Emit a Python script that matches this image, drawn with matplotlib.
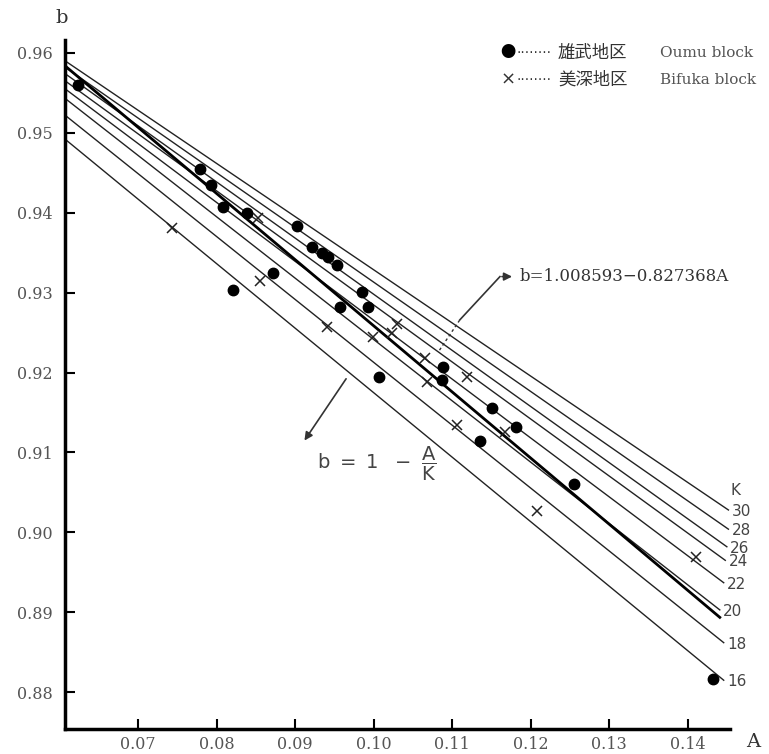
import numpy as np
import matplotlib
matplotlib.use("Agg")
import matplotlib.pyplot as plt

# K lines (b = 1 - A/K family), end points
k_values = [30, 28, 26, 24, 22, 20, 18, 16]
k_a_left = 0.0607
k_b_left = [0.9590, 0.9582, 0.9574, 0.9565, 0.9555, 0.9543, 0.9522, 0.9492]
k_a_right = [0.1452, 0.1452, 0.1450, 0.1448, 0.1446, 0.1441, 0.1446, 0.1446]
k_b_right = [0.9028, 0.9004, 0.8982, 0.8965, 0.8937, 0.8903, 0.8862, 0.8815]

# regression b = 1.008593 - 0.827368 A
reg_intercept = 1.008593
reg_slope = 0.827368
reg_range = [0.0607, 0.1441]

# Oumu block (dots)
oumu_a = [0.0624, 0.0779, 0.0793, 0.0808, 0.0839, 0.0902, 0.0921, 0.0934, 0.0942,
          0.0953, 0.0872, 0.0821, 0.0985, 0.0957, 0.0993, 0.1088, 0.1007, 0.1087,
          0.1151, 0.1182, 0.1135, 0.1255, 0.1432]
oumu_b = [0.9560, 0.9454, 0.9434, 0.9407, 0.9400, 0.9383, 0.9357, 0.9350, 0.9345,
          0.9335, 0.9325, 0.9303, 0.9301, 0.9282, 0.9282, 0.9207, 0.9194, 0.9191,
          0.9156, 0.9132, 0.9114, 0.9061, 0.8817]

# Bifuka block (crosses)
bifuka_a = [0.0743, 0.0853, 0.0855, 0.0941, 0.0999, 0.1030, 0.1023, 0.1065, 0.1068,
            0.1119, 0.1106, 0.1167, 0.1208, 0.1411]
bifuka_b = [0.9381, 0.9393, 0.9315, 0.9257, 0.9245, 0.9261, 0.9250, 0.9218, 0.9188,
            0.9194, 0.9134, 0.9126, 0.9027, 0.8969]

x_ticks = [0.07, 0.08, 0.09, 0.10, 0.11, 0.12, 0.13, 0.14]
x_tick_labels = ["0.07", "0.08", "0.09", "0.10", "0.11", "0.12", "0.13", "0.14"]
y_ticks = [0.88, 0.89, 0.90, 0.91, 0.92, 0.93, 0.94, 0.95, 0.96]
y_tick_labels = ["0.88", "0.89", "0.90", "0.91", "0.92", "0.93", "0.94", "0.95", "0.96"]

serif = "DejaVu Serif"
cjk = ["Noto Sans CJK JP", "DejaVu Sans"]
gray = "#555555"
plt.rcParams["mathtext.fontset"] = "dejavusans"

fig = plt.figure(figsize=(7.69, 7.54), dpi=100)
ax = fig.add_axes([65 / 769, 1 - 729 / 754, 665 / 769, 689 / 754])
ax.set_xlim(0.0607, 0.1454)
ax.set_ylim(0.8754, 0.9616)

# K lines
for k, bl, ar, br in zip(k_values, k_b_left, k_a_right, k_b_right):
    ax.plot([k_a_left, ar], [bl, br], color="#222222", linewidth=1.0)
    ax.text(ar + 0.0004, br - 0.0002, str(k), fontsize=11, color="#444444",
            ha="left", va="center", fontfamily="DejaVu Sans")
ax.text(k_a_right[0] + 0.0002, k_b_right[0] + 0.0025, "K", fontsize=11,
        color="#444444", ha="left", va="center", fontfamily="DejaVu Sans")

# regression
xr = np.array(reg_range)
ax.plot(xr, reg_intercept - reg_slope * xr, color="black", linewidth=2.0)

# data points
ax.plot(oumu_a, oumu_b, "o", color="black", markersize=7.5, linestyle="none")
ax.plot(bifuka_a, bifuka_b, "x", color="#222222", markersize=6.5, mew=1.1,
        linestyle="none")

# annotation of the regression
ax.plot([0.1084, 0.1110], [0.9228, 0.9266], color="#333333", linewidth=1.0,
        linestyle=(0, (2, 2)))
ax.plot([0.1110, 0.1161], [0.9266, 0.9320], color="#333333", linewidth=1.2)
ax.annotate("", xy=(0.1180, 0.9320), xytext=(0.1160, 0.9320),
            arrowprops=dict(arrowstyle="-|>", color="#333333", lw=1.2,
                            mutation_scale=12))
ax.text(0.1186, 0.9320, "b=1.008593\u22120.827368A", fontsize=12,
        fontfamily=serif, color="#333333", ha="left", va="center")

# annotation of the K family
ax.annotate("", xy=(0.0910, 0.9112), xytext=(0.0967, 0.9195),
            arrowprops=dict(arrowstyle="-|>", color="#333333", lw=1.2,
                            mutation_scale=12))
ax.text(0.0928, 0.9085, r"$\mathrm{b\ =\ 1\ \ -\ \dfrac{A}{K}}$", fontsize=14,
        color="#444444", ha="left", va="center")

# legend (drawn by hand)
fig.text(508 / 769, 1 - 53 / 754, "\u25cf", fontsize=11, color="black",
         ha="center", va="center", fontfamily=cjk)
fig.text(508 / 769, 1 - 80 / 754, "\u00d7", fontsize=13, color="#333333",
         ha="center", va="center", fontfamily="DejaVu Sans")
for yy, jp, en in [(53, "雄武地区", "Oumu block"), (80, "美深地区", "Bifuka block")]:
    fig.text(516 / 769, 1 - yy / 754, "\u00b7\u00b7\u00b7\u00b7\u00b7\u00b7\u00b7\u00b7",
             fontsize=10, color="#333333", ha="left", va="center",
             fontfamily="DejaVu Sans")
    fig.text(558 / 769, 1 - yy / 754, jp, fontsize=12.5, color="#333333",
             ha="left", va="center", fontfamily=cjk)
    fig.text(660 / 769, 1 - yy / 754, en, fontsize=11, color="#555555",
             ha="left", va="center", fontfamily=serif)

# axes styling
for side in ["top", "right"]:
    ax.spines[side].set_visible(False)
for side in ["left", "bottom"]:
    ax.spines[side].set_linewidth(2.5)
ax.set_xticks(x_ticks)
ax.set_xticklabels(x_tick_labels)
ax.set_yticks(y_ticks)
ax.set_yticklabels(y_tick_labels)
ax.tick_params(axis="both", direction="in", length=7, width=1.5,
               labelsize=11.5, labelcolor=gray)
ax.tick_params(axis="y", pad=9)
ax.tick_params(axis="x", pad=5)
for lab in ax.get_xticklabels() + ax.get_yticklabels():
    lab.set_fontfamily(serif)

fig.text(62 / 769, 1 - 18 / 754, "b", fontsize=14, color="#333333",
         ha="center", va="center", fontfamily=serif)
fig.text(753 / 769, 1 - 742 / 754, "A", fontsize=14, color="#333333",
         ha="center", va="center", fontfamily=serif)

fig.savefig("out.png", dpi=100)
